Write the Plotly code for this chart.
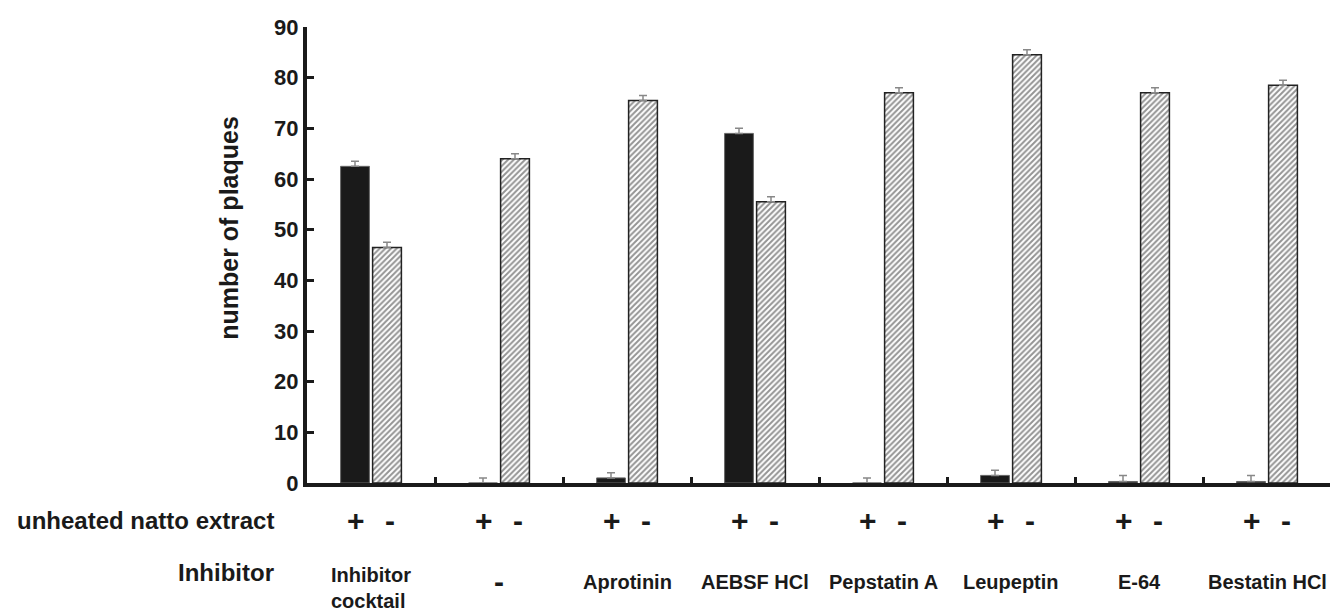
import plotly.graph_objects as go

groups = ["Inhibitor<br>cocktail", "-", "Aprotinin", "AEBSF HCl",
          "Pepstatin A", "Leupeptin", "E-64", "Bestatin HCl"]
plus_vals = [62.5, 0.0, 1.0, 69.0, 0.0, 1.5, 0.3, 0.3]      # + unheated natto extract
plus_err = [1.0, 1.0, 1.0, 1.0, 1.0, 1.0, 1.2, 1.2]
minus_vals = [46.5, 64.0, 75.5, 55.5, 77.0, 84.5, 77.0, 78.5]   # - unheated natto extract
minus_err = [1.0, 1.0, 1.0, 1.0, 1.0, 1.0, 1.0, 1.0]
signs = ["+", "-"]
yticks = list(range(0, 100, 10))

FONT = "Liberation Sans, Arial, sans-serif"
INK = "#1a1a1a"

fig = go.Figure()
fig.add_trace(go.Bar(
    x=groups, y=plus_vals, name=signs[0],
    marker=dict(color=INK, line=dict(color="#666666", width=1)),
    error_y=dict(type="data", symmetric=False, array=plus_err,
                 arrayminus=[0] * len(plus_err), visible=True,
                 color="#888888", thickness=1.5, width=4),
))
fig.add_trace(go.Bar(
    x=groups, y=minus_vals, name=signs[1],
    marker=dict(color="white", line=dict(color="#222222", width=1.5),
                pattern=dict(shape="/", fgcolor="#2a2a2a", bgcolor="white",
                             size=4, solidity=0.5)),
    error_y=dict(type="data", symmetric=False, array=minus_err,
                 arrayminus=[0] * len(minus_err), visible=True,
                 color="#888888", thickness=1.5, width=4),
))

annotations = []
for g in groups:
    for s, dx in zip(signs, [-15, 19]):
        annotations.append(dict(
            x=g, xref="x", y=0, yref="paper", yanchor="middle",
            yshift=-37, xshift=dx, text="<b>%s</b>" % s, showarrow=False,
            font=dict(family=FONT, size=30, color=INK)))
    is_dash = g == "-"
    multiline = "<br>" in g
    annotations.append(dict(
        x=g, xref="x", y=0, yref="paper", yanchor="top",
        yshift=-80 if is_dash else (-79 if multiline else -86),
        text="<b>%s</b>" % g, showarrow=False, align="left",
        font=dict(family=FONT, size=30 if is_dash else 20, color=INK)))

annotations.append(dict(
    x=-0.03, xref="paper", xanchor="right", y=0, yref="paper", yanchor="middle",
    yshift=-37, text="<b>unheated natto extract</b>", showarrow=False,
    font=dict(family=FONT, size=24, color=INK)))
annotations.append(dict(
    x=-0.03, xref="paper", xanchor="right", y=0, yref="paper", yanchor="middle",
    yshift=-89, text="<b>Inhibitor</b>", showarrow=False,
    font=dict(family=FONT, size=24, color=INK)))
annotations.append(dict(
    x=-0.077, xref="paper", xanchor="center", y=0.56, yref="paper",
    yanchor="middle", textangle=-90, text="<b>number of plaques</b>",
    showarrow=False, font=dict(family=FONT, size=25, color=INK)))

fig.update_layout(
    width=1330, height=603,
    margin=dict(l=299, r=7, t=16, b=128),
    paper_bgcolor="white", plot_bgcolor="white",
    barmode="group", bargap=0.5, bargroupgap=0.1,
    showlegend=False,
    font=dict(family=FONT, color=INK),
    annotations=annotations,
    xaxis=dict(
        type="category", range=[-0.5, len(groups) - 0.5],
        showticklabels=False, tickson="boundaries",
        ticks="inside", ticklen=6, tickwidth=3, tickcolor=INK,
        showline=True, linewidth=4, linecolor=INK,
        showgrid=False, zeroline=False),
    yaxis=dict(
        range=[0, 90], tickvals=yticks,
        ticks="inside", ticklen=7, tickwidth=3, tickcolor=INK,
        showline=True, linewidth=4, linecolor=INK,
        showgrid=False, zeroline=False,
        tickfont=dict(family=FONT, size=22, weight="bold", color=INK)),
)

fig.write_html("out.html")
